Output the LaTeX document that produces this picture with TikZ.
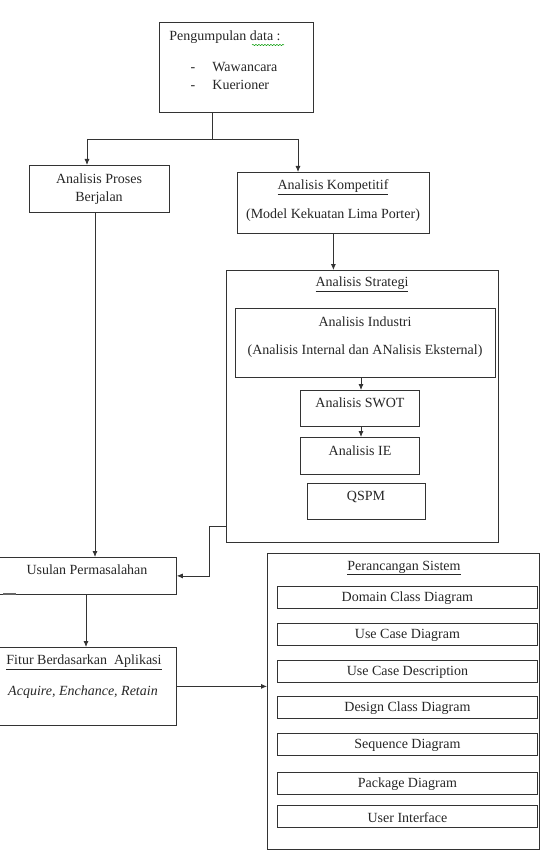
\documentclass[tikz,border=0pt]{standalone}
\usepackage{fontspec}
\setmainfont{Liberation Serif}
\usetikzlibrary{arrows.meta,decorations.pathmorphing}

\tikzset{
  kotak/.style={draw, anchor=north west, inner sep=0pt},
  teks/.style={inner sep=0pt, text=black!85, font=\rmfamily\fontsize{14}{16}\selectfont},
  panah/.style={-{Latex[length=6pt,width=5pt]}},
}

\begin{document}
\begin{tikzpicture}[x=1pt, y=-1pt, line width=0.8pt, draw=black!80]

\useasboundingbox (0,0) rectangle (540,850);

% lebar kotak di dalam perancangan
\def\W{260}
\def\H{22}

% pengumpulan data
\node[kotak, minimum width=154, minimum height=90] (kumpul) at (159,22) {};
\node[teks, anchor=west] (tkumpul) at (169,37) {Pengumpulan data :};
\draw[green!60!black, line width=0.5pt, decorate,
      decoration={snake, amplitude=0.6pt, segment length=3pt}] (252,45) -- (284,45);
\node[teks, anchor=west] (wawancara) at (212,67) {Wawancara};
\node[teks, anchor=west] (kuesioner) at (212,85) {Kuerioner};
\node[teks, anchor=base] (s1) at (wawancara.base -| 193,0) {-};
\node[teks, anchor=base] (s2) at (kuesioner.base -| 193,0) {-};

% analisis proses berjalan
\node[kotak, minimum width=140, minimum height=47] (proses) at (29,165) {};
\node[teks] (tproses1) at (99,179) {Analisis Proses};
\node[teks] (tproses2) at (99,198) {Berjalan};

% analisis kompetitif
\node[kotak, minimum width=192, minimum height=61] (kompetitif) at (237,172) {};
\node[teks] (tkomp1) at (333,187) {\underline{Analisis Kompetitif}};
\node[teks] (tkomp2) at (333,215) {(Model Kekuatan Lima Porter)};

% percabangan dari pengumpulan data
\coordinate (cabang) at (212,139);
\coordinate (kiri) at (87,139);
\coordinate (kanan) at (298,139);

\draw (kumpul.south -| cabang) -- (cabang);
\draw (kiri) -- (kanan);
\draw[panah] (kiri) -- (kiri |- proses.north);
\draw[panah] (kanan) -- (kanan |- kompetitif.north);

% analisis strategi
\node[kotak, minimum width=272, minimum height=272] (strategi) at (226,270) {};
\node[teks] (tstrategi) at (362,284) {\underline{Analisis Strategi}};

\node[kotak, minimum width=260, minimum height=69] (industri) at (235,308) {};
\node[teks] (tind1) at (365,322) {Analisis Industri};
\node[teks] (tind2) at (365,351) {(Analisis Internal dan ANalisis Eksternal)};

\node[kotak, minimum width=119, minimum height=36] (swot) at (300,390) {};
\node[teks] (tswot) at (360,403) {Analisis SWOT};

\node[kotak, minimum width=119, minimum height=37] (ie) at (300,437) {};
\node[teks] (tie) at (360,451) {Analisis IE};

\node[kotak, minimum width=118, minimum height=36] (qspm) at (307,483) {};
\node[teks] (tqspm) at (366,497) {QSPM};

\coordinate (tengah) at (361,0);
\draw[panah] (kompetitif.south) -- (strategi.north -| kompetitif.south);
\draw[panah] (industri.south -| tengah) -- (swot.north -| tengah);
\draw[panah] (swot.south -| tengah) -- (ie.north -| tengah);

% usulan permasalahan
\node[kotak, minimum width=178, minimum height=37] (usulan) at (-2,557) {};
\node[teks] (tusulan) at (87,570) {Usulan Permasalahan};
\draw[black!60, line width=1.2pt] (3,594) -- (16,594);

\coordinate (turun) at (95,0);
\draw[panah] (proses.south -| turun) -- (usulan.north -| turun);

\coordinate (belok) at (209,526);
\draw[panah] (strategi.west |- belok) -- (belok) |- (usulan.east);

% fitur berdasarkan aplikasi
\node[kotak, minimum width=178, minimum height=78] (fitur) at (-2,647) {};
\node[teks] (tfitur1) at (84,662) {\underline{Fitur Berdasarkan\ \ Aplikasi}};
\node[teks] (tfitur2) at (83,692) {\itshape Acquire,\ Enchance,\ Retain};

\coordinate (turun2) at (86,0);
\draw[panah] (usulan.south -| turun2) -- (fitur.north -| turun2);

% perancangan sistem
\node[kotak, minimum width=272, minimum height=296] (rancang) at (267,553) {};
\node[teks] (trancang) at (404,568) {\underline{Perancangan Sistem}};

\foreach \n/\y/\t in {d1/586/Domain Class Diagram,
                      d2/623/Use Case Diagram,
                      d3/660/Use Case Description,
                      d4/696/Design Class Diagram,
                      d5/733/Sequence Diagram,
                      d6/772/Package Diagram,
                      d7/805/User Interface}{
  \node[kotak, minimum width=\W, minimum height=\H] (\n) at (277,\y) {};
  \node[teks] at ([yshift=-1]\n.center) {\t};
}

\draw[panah] (fitur.east) -- (rancang.west |- fitur.east);

\end{tikzpicture}
\end{document}
